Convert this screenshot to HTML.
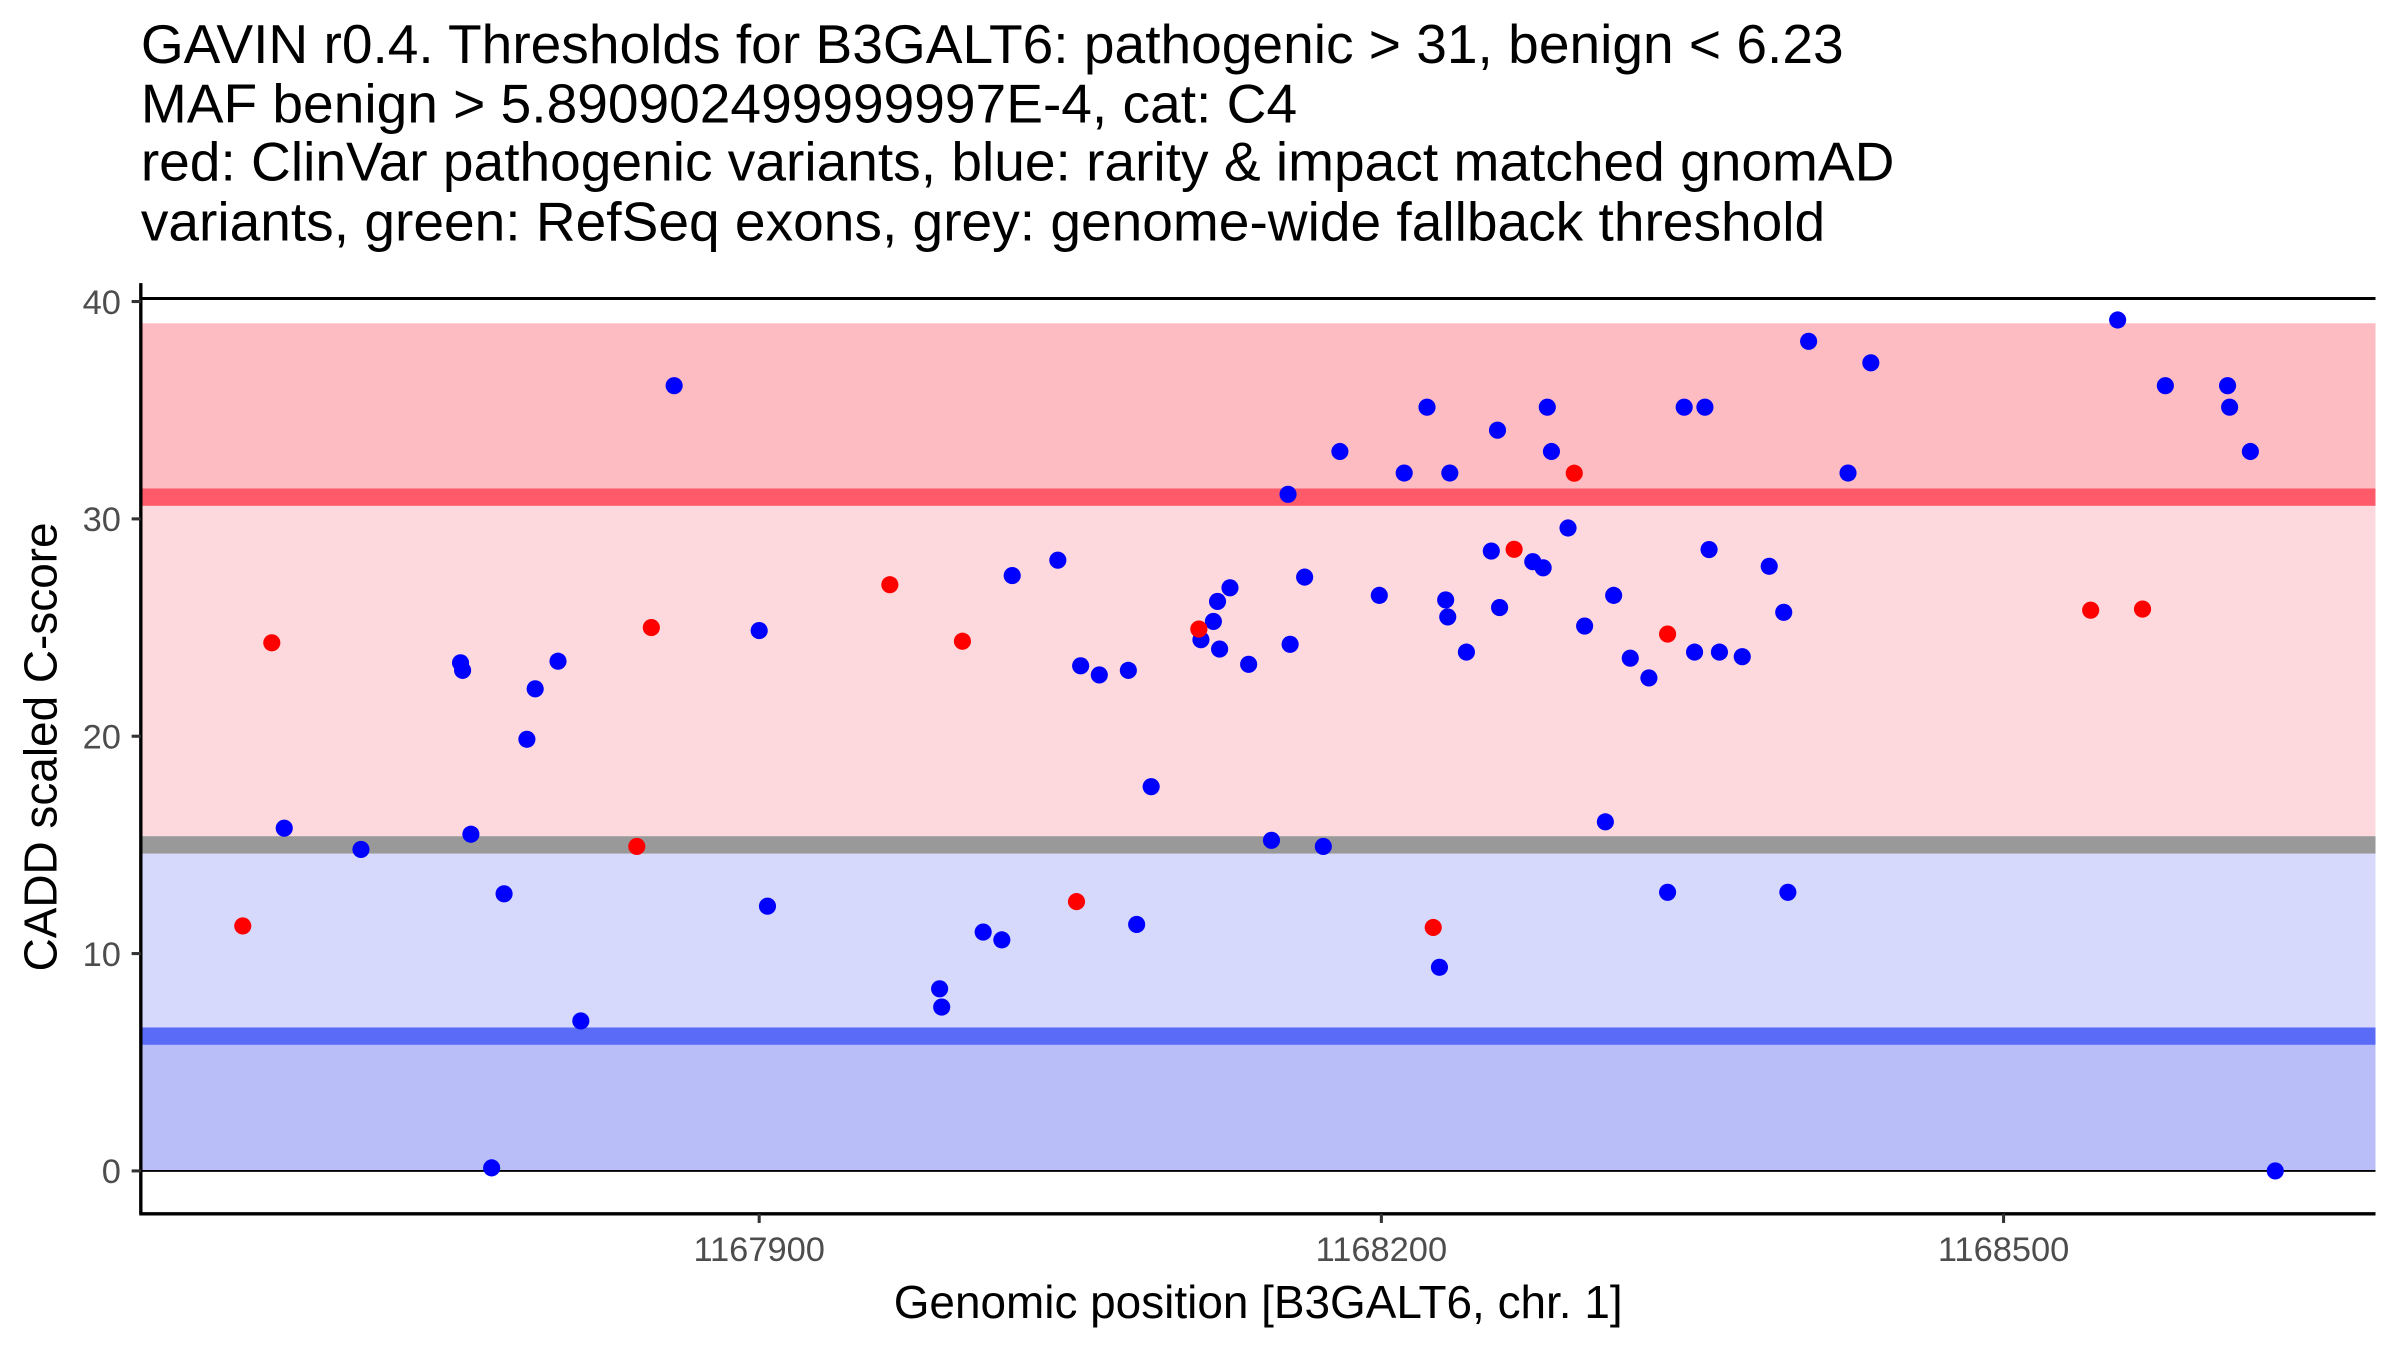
<!DOCTYPE html>
<html><head><meta charset="utf-8"><style>
html,body{margin:0;padding:0;background:#fff}
svg{display:block}
text{font-family:"Liberation Sans",Arial,sans-serif}
</style></head><body>
<svg id="chart" width="2400" height="1350" viewBox="0 0 1568 882" xmlns="http://www.w3.org/2000/svg">
<g font-size="36" fill="#000">
<text x="92" y="41">GAVIN r0.4. Thresholds for B3GALT6: pathogenic &gt; 31, benign &lt; 6.23</text>
<text x="92" y="80">MAF benign &gt; 5.890902499999997E-4, cat: C4</text>
<text x="92" y="118">red: ClinVar pathogenic variants, blue: rarity &amp; impact matched gnomAD</text>
<text x="92" y="157">variants, green: RefSeq exons, grey: genome-wide fallback threshold</text>
</g>
<g id="bands"></g>
<g id="axes"></g>
<g id="points"></g>
<text x="822" y="861" font-size="30" text-anchor="middle">Genomic position [B3GALT6, chr. 1]</text>
<text transform="translate(37,488) rotate(-90)" font-size="30" text-anchor="middle">CADD scaled C-score</text>
</svg>
<script>
const yTicks = [0, 10, 20, 30, 40];
const xTicks = [1167900, 1168200, 1168500];
const bandLo = [31.4, 15.4, 6.6, 0];
const bandHi = [39, 30.6, 14.6, 5.8];
const bandColors = ['#fdbcc1', '#fdd8dc', '#d7d9fc', '#b9bdf8'];
const lineLo = [30.6, 14.6, 5.8];
const lineHi = [31.4, 15.4, 6.6];
const lineColors = ['#fe5a6a', '#999999', '#5a6cf7'];
const redX = [1167651,1167665,1167841,1167848,1167963,1167998,1168053,1168112,1168225,1168264,1168293,1168338,1168542,1168567];
const redY = [11.27,24.3,14.93,25.0,26.97,24.37,12.39,24.93,11.2,28.6,32.1,24.7,25.8,25.85];
const blueX = [1167671,1167708,1167756,1167757,1167761,1167771,1167777,1167788,1167792,1167803,1167814,1167859,1167900,1167904,1167987,1167988,1168008,1168017,1168022,1168044,1168055,1168064,1168078,1168082,1168089,1168113,1168119,1168121,1168122,1168127,1168136,1168147,1168155,1168156,1168163,1168172,1168180,1168199,1168211,1168222,1168228,1168231,1168232,1168233,1168241,1168253,1168256,1168257,1168273,1168278,1168280,1168282,1168290,1168298,1168308,1168312,1168320,1168329,1168338,1168346,1168351,1168356,1168358,1168363,1168374,1168387,1168394,1168396,1168406,1168425,1168436,1168555,1168578,1168608,1168609,1168619,1168631];
const blueY = [15.77,14.79,23.38,23.03,15.49,0.14,12.75,19.86,22.18,23.45,6.9,36.13,24.86,12.18,8.38,7.54,10.99,10.63,27.39,28.1,23.24,22.82,23.03,11.34,17.68,24.44,25.28,26.2,24.01,26.83,23.31,15.21,31.13,24.23,27.32,14.93,33.1,26.48,32.11,35.14,9.37,26.27,25.49,32.11,23.87,28.52,34.08,25.92,28.03,27.75,35.14,33.1,29.58,25.07,16.06,26.48,23.59,22.68,12.82,35.14,23.87,35.14,28.59,23.87,23.66,27.82,25.7,12.82,38.17,32.11,37.18,39.15,36.13,36.13,35.14,33.1,0];

const NS = 'http://www.w3.org/2000/svg';
const L = 92, R = 1552, B = 793;
function sx(v){ return 496 + (v - 1167900) * 1.355; }
function sy(v){ return 765 - v * 14.2; }
function mk(tag, attrs, parent){ const e = document.createElementNS(NS, tag); for (const k in attrs) e.setAttribute(k, attrs[k]); parent.appendChild(e); return e; }
const bands = document.getElementById('bands');
for (let i = 0; i < bandLo.length; i++) {
  const r = mk('rect', {x: L, y: sy(bandHi[i]), width: R - L, height: sy(bandLo[i]) - sy(bandHi[i]), fill: bandColors[i]}, bands);
  
  
}
for (let i = 0; i < lineLo.length; i++) {
  const r = mk('rect', {x: L, y: sy(lineHi[i]), width: R - L, height: sy(lineLo[i]) - sy(lineHi[i]), fill: lineColors[i]}, bands);
  
  
}
const zl = mk('line', {x1: L, x2: R, y1: sy(0), y2: sy(0), stroke: '#000', 'stroke-width': 1.2}, bands);


const axes = document.getElementById('axes');
const tl = mk('line', {x1: L, x2: R, y1: 195, y2: 195, stroke: '#000', 'stroke-width': 2}, axes);


const ya = mk('line', {x1: L, x2: L, y1: 185, y2: B, stroke: '#000', 'stroke-width': 2.2}, axes);


const xa = mk('line', {x1: L - 1, x2: R, y1: B, y2: B, stroke: '#000', 'stroke-width': 2.2}, axes);


yTicks.forEach(t => {
  mk('line', {x1: L - 6, x2: L, y1: sy(t), y2: sy(t), stroke: '#333', 'stroke-width': 2}, axes);
  const tx = mk('text', {x: L - 13, y: sy(t) + 8, 'font-size': 22.5, fill: '#4d4d4d', 'text-anchor': 'end'}, axes);
  tx.textContent = t;
  
  
});
xTicks.forEach(t => {
  mk('line', {x1: sx(t), x2: sx(t), y1: B, y2: B + 6, stroke: '#333', 'stroke-width': 2}, axes);
  const tx = mk('text', {x: sx(t), y: B + 31, 'font-size': 22.5, fill: '#4d4d4d', 'text-anchor': 'middle'}, axes);
  tx.textContent = t;
  
  
});
const pts = document.getElementById('points');
blueX.forEach((x, i) => {
  const c = mk('circle', {cx: sx(x), cy: sy(blueY[i]), r: 5.6, fill: '#0000ff'}, pts);
  
  
});
redX.forEach((x, i) => {
  const c = mk('circle', {cx: sx(x), cy: sy(redY[i]), r: 5.6, fill: '#ff0000'}, pts);
  
  
});
</script>
</body></html>
